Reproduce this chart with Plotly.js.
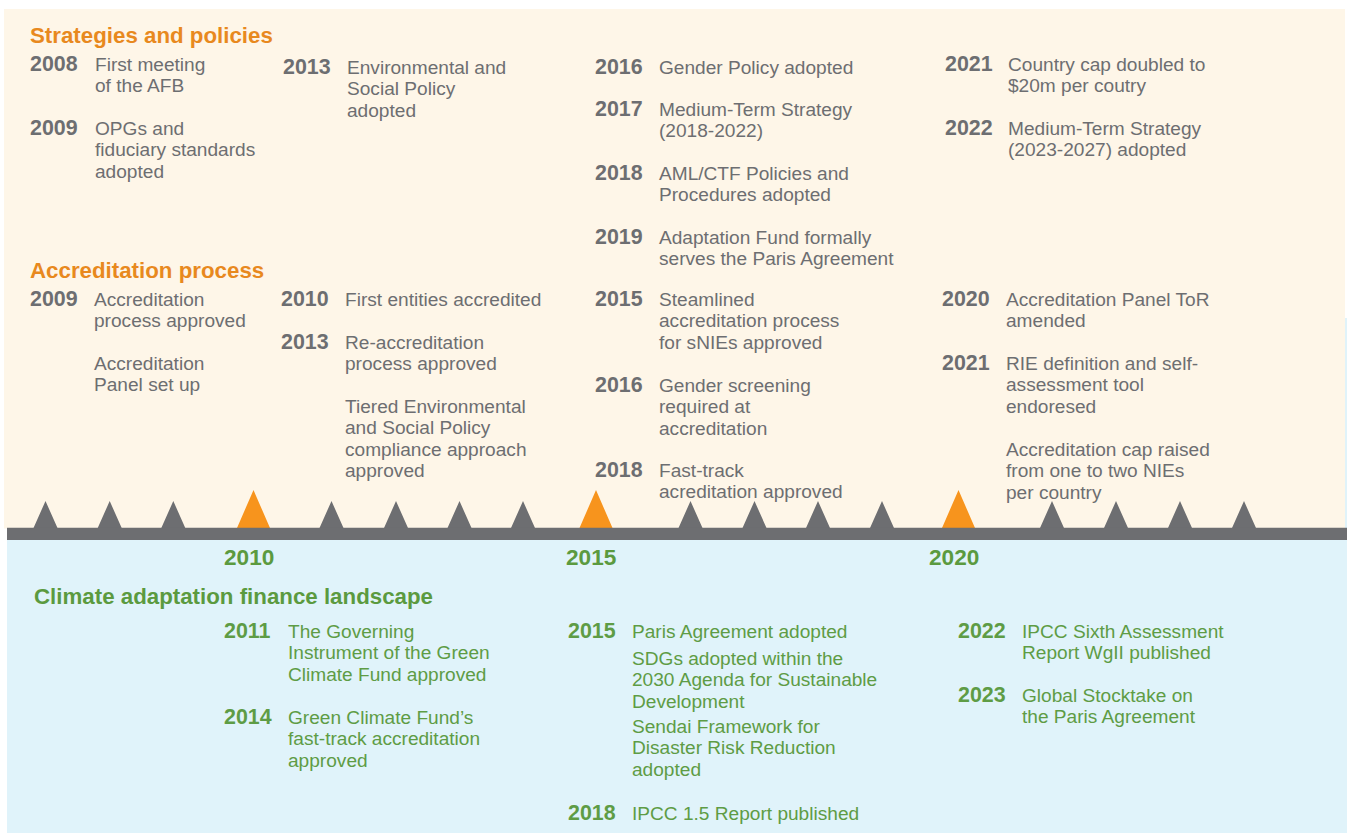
<!DOCTYPE html>
<html><head><meta charset="utf-8">
<script src="https://cdn.plot.ly/plotly-3.0.1.min.js"></script>
<style>html,body{margin:0;padding:0;background:#fff;overflow:hidden}</style>
</head><body><div id="chart" style="width:1347px;height:833px;"></div>
<script>
// ---- timeline ticks ----
const tickYears = [2007,2008,2009,2010,2011,2012,2013,2014,2015,2016,2017,2018,2019,2020,2021,2022,2023,2024];
const majorYears = [2010,2015,2020];
// axis mapping (timeline is drawn with uneven spacing around the major years)
const tickPos = [45.5,109.7,173.3,253.5,331.5,396,459.5,523,596,690.5,754.5,818,882,958.5,1052,1116,1180,1244];

// ---- section titles ----
const sectionTitles = ["Strategies and policies","Accreditation process","Climate adaptation finance landscape"];

// ---- Strategies and policies ----
const spYears = ["2008","2009","2013","2016","2017","2018","2019","2021","2022"];
const spTexts = [
  ["First meeting","of the AFB"],
  ["OPGs and","fiduciary standards","adopted"],
  ["Environmental and","Social Policy","adopted"],
  ["Gender Policy adopted"],
  ["Medium-Term Strategy","(2018-2022)"],
  ["AML/CTF Policies and","Procedures adopted"],
  ["Adaptation Fund formally","serves the Paris Agreement"],
  ["Country cap doubled to","$20m per coutry"],
  ["Medium-Term Strategy","(2023-2027) adopted"]
];
// ---- Accreditation process ----
const apYears = ["2009","","2010","2013","","2015","2016","2018","2020","2021",""];
const apTexts = [
  ["Accreditation","process approved"],
  ["Accreditation","Panel set up"],
  ["First entities accredited"],
  ["Re-accreditation","process approved"],
  ["Tiered Environmental","and Social Policy","compliance approach","approved"],
  ["Steamlined","accreditation process","for sNIEs approved"],
  ["Gender screening","required at","accreditation"],
  ["Fast-track","acreditation approved"],
  ["Accreditation Panel ToR","amended"],
  ["RIE definition and self-","assessment tool","endoresed"],
  ["Accreditation cap raised","from one to two NIEs","per country"]
];
// ---- Climate adaptation finance landscape ----
const cafYears = ["2011","2014","2015","","","2018","2022","2023"];
const cafTexts = [
  ["The Governing","Instrument of the Green","Climate Fund approved"],
  ["Green Climate Fund\u2019s","fast-track accreditation","approved"],
  ["Paris Agreement adopted"],
  ["SDGs adopted within the","2030 Agenda for Sustainable","Development"],
  ["Sendai Framework for","Disaster Risk Reduction","adopted"],
  ["IPCC 1.5 Report published"],
  ["IPCC Sixth Assessment","Report WgII published"],
  ["Global Stocktake on","the Paris Agreement"]
];

// ---- layout of the entries (columns: [yearX, textX]) ----
const spCols = [[30,95],[283,347],[595,659],[945,1008]];
const spPlace = [[0,64],[0,128],[1,67],[2,67],[2,109],[2,173],[2,237],[3,64],[3,128]];
const apCols = [[30,94],[281,345],[595,659],[942,1006]];
const apPlace = [[0,299],[0,363],[1,299],[1,342],[1,406],[2,299],[2,385],[2,470],[3,299],[3,363],[3,449]];
const cafCols = [[224,288],[568,632],[958,1022]];
const cafPlace = [[0,631],[0,717],[1,631],[1,658],[1,726],[1,813],[2,631],[2,695]];

const GRAY = '#6d6e71', ORANGE = '#f7941d', HEAD_OR = '#e8891e', GREEN = '#5b9a3f', TXT_GREEN = '#5e9c45';
const CREAM = '#fef6e8', BLUE = '#e0f3fa';
const FONT = '"Liberation Sans", Arial, sans-serif';
const BODY = 19.1, YEAR = 21.4, PITCH = 21.35, XS = -2.5;
const TOPOFF = 1.5 + BODY * 0.5585;   // borderpad + half line box

const annotations = [];
function addEntries(years, texts, cols, place, color) {
  years.forEach((yr, i) => {
    const [c, y0] = place[i];
    const [yx, tx] = cols[c];
    if (yr) annotations.push({x: yx, y: y0, xref:'x', yref:'y', text: '<b>'+yr+'</b>', showarrow:false, xshift:XS, yshift:0.5,
      xanchor:'left', yanchor:'middle', font:{family:FONT, size:YEAR, color:color}});
    annotations.push({x: tx, y: y0 - TOPOFF, xref:'x', yref:'y', text: texts[i].join('<br>'), showarrow:false, xshift:XS,
      xanchor:'left', yanchor:'top', align:'left', font:{family:FONT, size:BODY, color:color}});
  });
}
addEntries(spYears, spTexts, spCols, spPlace, GRAY);
addEntries(apYears, apTexts, apCols, apPlace, GRAY);
addEntries(cafYears, cafTexts, cafCols, cafPlace, TXT_GREEN);

// section titles
const titlePlace = [[30,35,HEAD_OR],[30,270,HEAD_OR],[34,596,GREEN]];
sectionTitles.forEach((t,i)=>{
  annotations.push({x:titlePlace[i][0], y:titlePlace[i][1], xref:'x', yref:'y', text:'<b>'+t+'</b>', showarrow:false, xshift:XS,
    xanchor:'left', yanchor:'middle', font:{family:FONT, size:22.3, color:titlePlace[i][2]}});
});
// major year labels
majorYears.forEach(yr=>{
  const p = tickPos[tickYears.indexOf(yr)];
  annotations.push({x:p, y:557, xref:'x', yref:'y', text:'<b>'+yr+'</b>', showarrow:false, xshift:-5,
    xanchor:'center', yanchor:'middle', font:{family:FONT, size:22.6, color:GREEN}});
});

// triangles
const BASE = 528;
function tri(isMajor, hw, h) {
  const xs=[], ys=[];
  tickYears.forEach((yr,i)=>{
    if ((majorYears.indexOf(yr)>=0) !== isMajor) return;
    const p = tickPos[i];
    xs.push(p-hw, p, p+hw, null); ys.push(BASE, BASE-h, BASE, null);
  });
  return {x:xs, y:ys, mode:'lines', fill:'toself', line:{width:0, color: isMajor?ORANGE:GRAY},
    fillcolor: isMajor?ORANGE:GRAY, hoverinfo:'skip', showlegend:false};
}
const traces = [tri(false,12,27), tri(true,16.5,38)];

const shapes = [
  {type:'rect', xref:'x', yref:'y', x0:4, x1:1345, y0:9, y1:528.5, fillcolor:CREAM, line:{width:0}, layer:'below'},
  {type:'rect', xref:'x', yref:'y', x0:1345, x1:1347, y0:318, y1:528.5, fillcolor:BLUE, line:{width:0}, layer:'below'},
  {type:'rect', xref:'x', yref:'y', x0:7, x1:1347, y0:539.5, y1:833, fillcolor:BLUE, line:{width:0}, layer:'below'},
  {type:'rect', xref:'x', yref:'y', x0:7, x1:1347, y0:527.7, y1:540, fillcolor:GRAY, line:{width:0}, layer:'above'}
];

const layout = {
  width:1347, height:833, margin:{l:0,r:0,t:0,b:0,pad:0},
  paper_bgcolor:'#ffffff', plot_bgcolor:'rgba(0,0,0,0)',
  xaxis:{range:[0,1347], visible:false, fixedrange:true},
  yaxis:{range:[833,0], visible:false, fixedrange:true},
  shapes:shapes, annotations:annotations, showlegend:false
};
const gd = document.getElementById('chart');
// tighten the paragraph leading to the reference's (Plotly uses 1.3em between lines)
function tightenLeading() {
  gd.querySelectorAll('text.annotation-text').forEach(t => {
    t.querySelectorAll('tspan.line').forEach((ts, k) => {
      ts.setAttribute('dy', (k * PITCH) + 'px');
    });
  });
}
Plotly.newPlot(gd, traces, layout, {displayModeBar:false, staticPlot:true}).then(() => {
  tightenLeading();
  gd.on('plotly_afterplot', tightenLeading);
});
</script></body></html>
